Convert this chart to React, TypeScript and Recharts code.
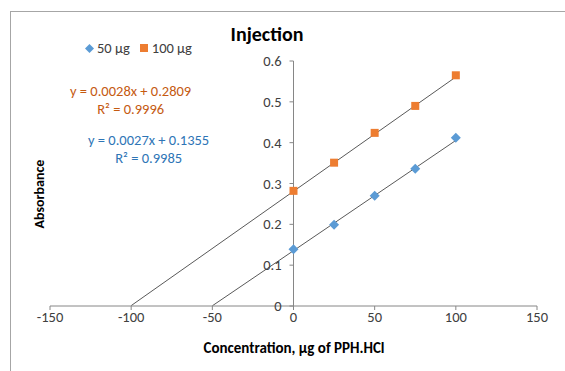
import { ScatterChart, Scatter, XAxis, YAxis, ReferenceLine, Legend } from "recharts";

const concentrations = [0, 25, 50, 75, 100];
const abs50 = [0.139, 0.199, 0.27, 0.336, 0.412];
const abs100 = [0.282, 0.351, 0.424, 0.49, 0.565];
const xTicks = [-150, -100, -50, 0, 50, 100, 150];
const yTicks = [0, 0.1, 0.2, 0.3, 0.4, 0.5, 0.6];

// trendlines as printed on the chart, forecast backward to y = 0
const fit50 = { slope: 0.0027, intercept: 0.1355, r2: "0.9985", from: -50, to: 100 };
const fit100 = { slope: 0.0028, intercept: 0.2809, r2: "0.9996", from: -100, to: 100 };

const FONT = "Carlito, Calibri, Lato, sans-serif";
const BLUE = "#5b9bd5";
const ORANGE = "#ed7d31";
const AXIS = "#868686";
const TEXT = "#404040";
const FS = 14.5;

const W = 565;
const H = 371;
const M_LEFT = 50;
const M_RIGHT = 28;
const PLOT_W = W - M_LEFT - M_RIGHT;
const X0 = M_LEFT + PLOT_W / 2; // where the y axis crosses (x = 0)

const series50 = concentrations.map((x, i) => ({ x, y: abs50[i] }));
const series100 = concentrations.map((x, i) => ({ x, y: abs100[i] }));

const seg = (f: typeof fit50) => [
  { x: f.from, y: f.slope * f.from + f.intercept },
  { x: f.to, y: f.slope * f.to + f.intercept },
];

const Diamond = ({ cx, cy }: any) => (
  <polygon points={`${cx},${cy - 5} ${cx + 5},${cy} ${cx},${cy + 5} ${cx - 5},${cy}`} fill={BLUE} />
);
const Square = ({ cx, cy }: any) => <rect x={cx - 4} y={cy - 4} width={8} height={8} fill={ORANGE} />;

const YTick = ({ y, payload }: any) => (
  <g>
    <line x1={X0 - 4} x2={X0} y1={y} y2={y} stroke={AXIS} />
    <text x={X0 - 12} y={y} dy="0.35em" textAnchor="end" fill={TEXT} fontSize={FS} fontFamily={FONT}>
      {payload.value}
    </text>
  </g>
);

const LegendBox = () => (
  <div style={{ display: "flex", alignItems: "center", fontFamily: FONT, fontSize: FS, color: TEXT }}>
    <svg width={9} height={9} style={{ marginRight: 3 }}>
      <polygon points="4.5,0 9,4.5 4.5,9 0,4.5" fill={BLUE} />
    </svg>
    <span style={{ marginRight: 10 }}>50 µg</span>
    <svg width={8} height={8} style={{ marginRight: 4 }}>
      <rect width={8} height={8} fill={ORANGE} />
    </svg>
    <span>100 µg</span>
  </div>
);

const eqStyle = (color: string, left: number, top: number): React.CSSProperties => ({
  position: "absolute",
  left,
  top,
  color,
  fontFamily: FONT,
  fontSize: FS,
  lineHeight: "18px",
  textAlign: "center",
  whiteSpace: "nowrap",
});

export default function App() {
  return (
    <div style={{ position: "absolute", left: 0, top: 0, width: W, height: H, background: "#fff", overflow: "hidden" }}>
      <div
        style={{
          position: "absolute",
          left: 10,
          top: 11,
          right: 0,
          bottom: 0,
          borderLeft: "1px solid #a6a6a6",
          borderTop: "1px solid #a6a6a6",
        }}
      />
      <div
        style={{
          position: "absolute",
          left: 0,
          width: 534,
          top: 22,
          textAlign: "center",
          fontFamily: FONT,
          fontWeight: "bold",
          fontSize: 20,
          color: "#000",
        }}
      >
        Injection
      </div>
      <div style={eqStyle("#c55a11", 70, 82)}>
        y = 0.0028x + 0.2809
        <br />
        R² = {fit100.r2}
      </div>
      <div style={eqStyle("#2e75b6", 88, 131)}>
        y = 0.0027x + 0.1355
        <br />
        R² = {fit50.r2}
      </div>
      <ScatterChart width={W} height={H} margin={{ top: 61, right: M_RIGHT, bottom: 0, left: 0 }}>
        <XAxis
          type="number"
          dataKey="x"
          domain={[-150, 150]}
          ticks={xTicks}
          height={65}
          stroke={AXIS}
          tickSize={4}
          tick={{ fill: TEXT, fontSize: FS, fontFamily: FONT }}
          label={{
            content: () => (
              <text x={294} y={353} textAnchor="middle" fontFamily={FONT} fontWeight="bold" fontSize={15} fill="#000">
                Concentration, µg of PPH.HCl
              </text>
            ),
          }}
        />
        <YAxis
          type="number"
          dataKey="y"
          domain={[0, 0.6]}
          ticks={yTicks}
          width={M_LEFT}
          axisLine={false}
          tickLine={false}
          tick={<YTick />}
          label={{
            content: () => (
              <text
                x={39}
                y={194}
                textAnchor="middle"
                dy="0.35em"
                transform="rotate(-90 39 194)"
                fontFamily={FONT}
                fontWeight="bold"
                fontSize={14}
                fill="#000"
              >
                Absorbance
              </text>
            ),
          }}
        />
        <ReferenceLine x={0} stroke={AXIS} />
        <ReferenceLine segment={seg(fit100)} stroke="#595959" strokeWidth={1} />
        <ReferenceLine segment={seg(fit50)} stroke="#595959" strokeWidth={1} />
        <Legend
          layout="vertical"
          align="center"
          verticalAlign="middle"
          wrapperStyle={{ position: "absolute", left: 85, top: 39, width: "auto" }}
          content={() => <LegendBox />}
        />
        <Scatter name="50 µg" data={series50} shape={<Diamond />} isAnimationActive={false} />
        <Scatter name="100 µg" data={series100} shape={<Square />} isAnimationActive={false} />
      </ScatterChart>
    </div>
  );
}
